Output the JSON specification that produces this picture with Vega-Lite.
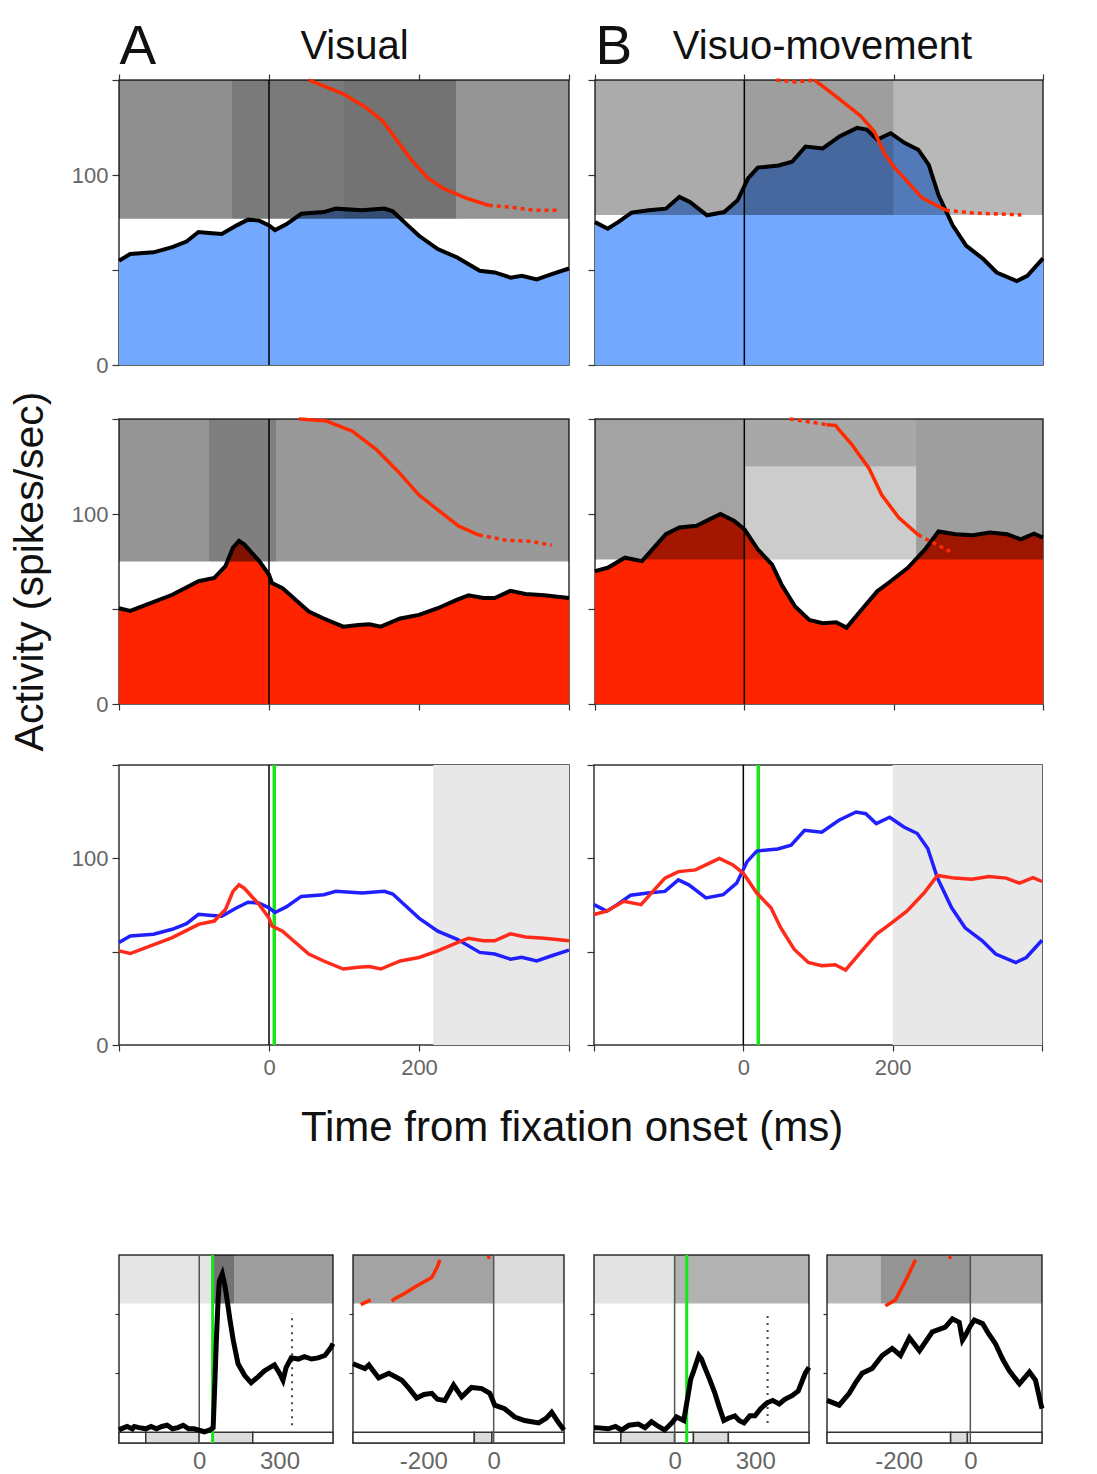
{
"$schema": "https://vega.github.io/schema/vega-lite/v6.json",
"padding": {"left": 10, "top": 18, "right": 0, "bottom": 0},
"background": "white",
"align": "none",
"spacing": 99,
"config": {
"view": {"stroke": "#333", "strokeWidth": 1.5},
"axis": {"grid": false, "domain": false, "ticks": true, "tickColor": "#333", "tickWidth": 1.2, "tickSize": 6, "labelFont": "Liberation Sans", "labelFontSize": 22, "labelColor": "#666", "titleFont": "Liberation Sans", "titleFontWeight": "normal", "titleColor": "#111"},
"title": {"font": "Liberation Sans", "fontWeight": "normal", "color": "#111"}
},
"datasets": {
"curves": [
{"p":"A","s":"blue","t":-200,"v":54.9},{"p":"A","s":"blue","t":-185,"v":58.4},{"p":"A","s":"blue","t":-154,"v":59.3},{"p":"A","s":"blue","t":-129,"v":62},{"p":"A","s":"blue","t":-110,"v":65},{"p":"A","s":"blue","t":-94,"v":70},{"p":"A","s":"blue","t":-80,"v":69.5},{"p":"A","s":"blue","t":-63,"v":69},{"p":"A","s":"blue","t":-43,"v":73.5},{"p":"A","s":"blue","t":-28,"v":76.5},{"p":"A","s":"blue","t":-13,"v":76},{"p":"A","s":"blue","t":0,"v":73.5},{"p":"A","s":"blue","t":8,"v":71},{"p":"A","s":"blue","t":23,"v":74},{"p":"A","s":"blue","t":43,"v":79.6},{"p":"A","s":"blue","t":73,"v":80.5},{"p":"A","s":"blue","t":89,"v":82.3},{"p":"A","s":"blue","t":124,"v":81.4},{"p":"A","s":"blue","t":154,"v":82.3},{"p":"A","s":"blue","t":165,"v":80.9},{"p":"A","s":"blue","t":185,"v":73.5},{"p":"A","s":"blue","t":200,"v":68},{"p":"A","s":"blue","t":225,"v":61},{"p":"A","s":"blue","t":251,"v":56.6},{"p":"A","s":"blue","t":281,"v":49.6},{"p":"A","s":"blue","t":301,"v":48.7},{"p":"A","s":"blue","t":322,"v":46},{"p":"A","s":"blue","t":337,"v":47},{"p":"A","s":"blue","t":357,"v":45},{"p":"A","s":"blue","t":377,"v":47.8},{"p":"A","s":"blue","t":400,"v":50.8},
{"p":"A","s":"red","t":-200,"v":50.4},{"p":"A","s":"red","t":-185,"v":49},{"p":"A","s":"red","t":-165,"v":52},{"p":"A","s":"red","t":-129,"v":57.5},{"p":"A","s":"red","t":-94,"v":64.6},{"p":"A","s":"red","t":-73,"v":66.4},{"p":"A","s":"red","t":-58,"v":72.6},{"p":"A","s":"red","t":-48,"v":82.3},{"p":"A","s":"red","t":-40,"v":85.8},{"p":"A","s":"red","t":-33,"v":84},{"p":"A","s":"red","t":-13,"v":75.2},{"p":"A","s":"red","t":0,"v":68},{"p":"A","s":"red","t":4,"v":63.7},{"p":"A","s":"red","t":18,"v":61},{"p":"A","s":"red","t":38,"v":54},{"p":"A","s":"red","t":53,"v":48.7},{"p":"A","s":"red","t":73,"v":45},{"p":"A","s":"red","t":99,"v":40.7},{"p":"A","s":"red","t":119,"v":41.6},{"p":"A","s":"red","t":134,"v":42},{"p":"A","s":"red","t":149,"v":40.7},{"p":"A","s":"red","t":175,"v":45},{"p":"A","s":"red","t":200,"v":46.9},{"p":"A","s":"red","t":225,"v":50.4},{"p":"A","s":"red","t":251,"v":54.9},{"p":"A","s":"red","t":266,"v":57.2},{"p":"A","s":"red","t":286,"v":55.8},{"p":"A","s":"red","t":301,"v":55.8},{"p":"A","s":"red","t":322,"v":59.6},{"p":"A","s":"red","t":342,"v":57.9},{"p":"A","s":"red","t":367,"v":57.2},{"p":"A","s":"red","t":400,"v":55.8},
{"p":"B","s":"blue","t":-200,"v":75.2},{"p":"B","s":"blue","t":-183,"v":71.7},{"p":"B","s":"blue","t":-169,"v":75.2},{"p":"B","s":"blue","t":-151,"v":80.2},{"p":"B","s":"blue","t":-128,"v":81.4},{"p":"B","s":"blue","t":-105,"v":82.3},{"p":"B","s":"blue","t":-87,"v":88.5},{"p":"B","s":"blue","t":-73,"v":85.8},{"p":"B","s":"blue","t":-50,"v":78.8},{"p":"B","s":"blue","t":-27,"v":80.5},{"p":"B","s":"blue","t":-9,"v":86.7},{"p":"B","s":"blue","t":5,"v":98.2},{"p":"B","s":"blue","t":18,"v":103.9},{"p":"B","s":"blue","t":46,"v":105},{"p":"B","s":"blue","t":64,"v":107},{"p":"B","s":"blue","t":82,"v":115},{"p":"B","s":"blue","t":105,"v":114},{"p":"B","s":"blue","t":128,"v":120.4},{"p":"B","s":"blue","t":151,"v":124.8},{"p":"B","s":"blue","t":164,"v":123.9},{"p":"B","s":"blue","t":178,"v":118.6},{"p":"B","s":"blue","t":196,"v":122},{"p":"B","s":"blue","t":215,"v":116.8},{"p":"B","s":"blue","t":233,"v":113.3},{"p":"B","s":"blue","t":247,"v":105.3},{"p":"B","s":"blue","t":260,"v":89.4},{"p":"B","s":"blue","t":279,"v":73.5},{"p":"B","s":"blue","t":297,"v":62.8},{"p":"B","s":"blue","t":320,"v":55.8},{"p":"B","s":"blue","t":338,"v":48.7},{"p":"B","s":"blue","t":365,"v":44.2},{"p":"B","s":"blue","t":379,"v":46.9},{"p":"B","s":"blue","t":400,"v":56.1},
{"p":"B","s":"red","t":-200,"v":69.9},{"p":"B","s":"red","t":-183,"v":71.7},{"p":"B","s":"red","t":-160,"v":77},{"p":"B","s":"red","t":-137,"v":75.2},{"p":"B","s":"red","t":-119,"v":83.2},{"p":"B","s":"red","t":-105,"v":89.4},{"p":"B","s":"red","t":-87,"v":92.9},{"p":"B","s":"red","t":-64,"v":93.8},{"p":"B","s":"red","t":-46,"v":97.3},{"p":"B","s":"red","t":-32,"v":100},{"p":"B","s":"red","t":-14,"v":96.5},{"p":"B","s":"red","t":0,"v":92},{"p":"B","s":"red","t":18,"v":81.4},{"p":"B","s":"red","t":37,"v":73.5},{"p":"B","s":"red","t":50,"v":62.8},{"p":"B","s":"red","t":68,"v":51.3},{"p":"B","s":"red","t":87,"v":44.2},{"p":"B","s":"red","t":105,"v":42.5},{"p":"B","s":"red","t":123,"v":43},{"p":"B","s":"red","t":137,"v":40.2},{"p":"B","s":"red","t":155,"v":48.7},{"p":"B","s":"red","t":178,"v":59.3},{"p":"B","s":"red","t":196,"v":64.6},{"p":"B","s":"red","t":219,"v":71.7},{"p":"B","s":"red","t":242,"v":81.4},{"p":"B","s":"red","t":260,"v":90.8},{"p":"B","s":"red","t":283,"v":89.4},{"p":"B","s":"red","t":306,"v":88.8},{"p":"B","s":"red","t":329,"v":90.3},{"p":"B","s":"red","t":352,"v":89.4},{"p":"B","s":"red","t":370,"v":86.7},{"p":"B","s":"red","t":388,"v":89.7},{"p":"B","s":"red","t":400,"v":87.6},
{"p":"C1","s":"k","t":-300,"v":2},{"p":"C1","s":"k","t":-292,"v":3},{"p":"C1","s":"k","t":-270,"v":5},{"p":"C1","s":"k","t":-250,"v":3},{"p":"C1","s":"k","t":-243,"v":5},{"p":"C1","s":"k","t":-225,"v":4},{"p":"C1","s":"k","t":-200,"v":3},{"p":"C1","s":"k","t":-180,"v":5},{"p":"C1","s":"k","t":-160,"v":3},{"p":"C1","s":"k","t":-140,"v":5},{"p":"C1","s":"k","t":-120,"v":6},{"p":"C1","s":"k","t":-100,"v":3},{"p":"C1","s":"k","t":-80,"v":4},{"p":"C1","s":"k","t":-60,"v":6},{"p":"C1","s":"k","t":-40,"v":3},{"p":"C1","s":"k","t":-20,"v":3},{"p":"C1","s":"k","t":-4,"v":2},{"p":"C1","s":"k","t":19,"v":0.5},{"p":"C1","s":"k","t":40,"v":2},{"p":"C1","s":"k","t":52,"v":4},{"p":"C1","s":"k","t":58,"v":40},{"p":"C1","s":"k","t":64,"v":78},{"p":"C1","s":"k","t":70,"v":110},{"p":"C1","s":"k","t":75,"v":128},{"p":"C1","s":"k","t":86,"v":134},{"p":"C1","s":"k","t":95,"v":125},{"p":"C1","s":"k","t":101,"v":117},{"p":"C1","s":"k","t":115,"v":95},{"p":"C1","s":"k","t":127,"v":78},{"p":"C1","s":"k","t":145,"v":58},{"p":"C1","s":"k","t":170,"v":48},{"p":"C1","s":"k","t":194,"v":42},{"p":"C1","s":"k","t":220,"v":47},{"p":"C1","s":"k","t":243,"v":52},{"p":"C1","s":"k","t":265,"v":55},{"p":"C1","s":"k","t":281,"v":57},{"p":"C1","s":"k","t":300,"v":50},{"p":"C1","s":"k","t":313,"v":44},{"p":"C1","s":"k","t":325,"v":55},{"p":"C1","s":"k","t":344,"v":63},{"p":"C1","s":"k","t":370,"v":62},{"p":"C1","s":"k","t":393,"v":64},{"p":"C1","s":"k","t":420,"v":62},{"p":"C1","s":"k","t":444,"v":63},{"p":"C1","s":"k","t":470,"v":65},{"p":"C1","s":"k","t":493,"v":72},{"p":"C1","s":"k","t":500,"v":75},
{"p":"C2","s":"k","t":-400,"v":58},{"p":"C2","s":"k","t":-366,"v":54},{"p":"C2","s":"k","t":-355,"v":57},{"p":"C2","s":"k","t":-327,"v":46},{"p":"C2","s":"k","t":-298,"v":50},{"p":"C2","s":"k","t":-261,"v":44},{"p":"C2","s":"k","t":-240,"v":37},{"p":"C2","s":"k","t":-219,"v":29},{"p":"C2","s":"k","t":-198,"v":32},{"p":"C2","s":"k","t":-176,"v":33},{"p":"C2","s":"k","t":-160,"v":28},{"p":"C2","s":"k","t":-139,"v":27},{"p":"C2","s":"k","t":-114,"v":40},{"p":"C2","s":"k","t":-91,"v":30},{"p":"C2","s":"k","t":-63,"v":38},{"p":"C2","s":"k","t":-34,"v":37},{"p":"C2","s":"k","t":-11,"v":33},{"p":"C2","s":"k","t":3,"v":23},{"p":"C2","s":"k","t":31,"v":20},{"p":"C2","s":"k","t":60,"v":13},{"p":"C2","s":"k","t":88,"v":10},{"p":"C2","s":"k","t":128,"v":8},{"p":"C2","s":"k","t":150,"v":12},{"p":"C2","s":"k","t":165,"v":17},{"p":"C2","s":"k","t":185,"v":8},{"p":"C2","s":"k","t":200,"v":2},
{"p":"C3","s":"k","t":-300,"v":4},{"p":"C3","s":"k","t":-292,"v":4},{"p":"C3","s":"k","t":-247,"v":3},{"p":"C3","s":"k","t":-220,"v":5},{"p":"C3","s":"k","t":-198,"v":2},{"p":"C3","s":"k","t":-170,"v":6},{"p":"C3","s":"k","t":-135,"v":7},{"p":"C3","s":"k","t":-110,"v":4},{"p":"C3","s":"k","t":-86,"v":9},{"p":"C3","s":"k","t":-60,"v":5},{"p":"C3","s":"k","t":-37,"v":2},{"p":"C3","s":"k","t":-10,"v":8},{"p":"C3","s":"k","t":7,"v":13},{"p":"C3","s":"k","t":34,"v":10},{"p":"C3","s":"k","t":49,"v":30},{"p":"C3","s":"k","t":60,"v":45},{"p":"C3","s":"k","t":71,"v":52},{"p":"C3","s":"k","t":90,"v":65},{"p":"C3","s":"k","t":100,"v":62},{"p":"C3","s":"k","t":112,"v":55},{"p":"C3","s":"k","t":130,"v":45},{"p":"C3","s":"k","t":150,"v":33},{"p":"C3","s":"k","t":165,"v":22},{"p":"C3","s":"k","t":183,"v":10},{"p":"C3","s":"k","t":200,"v":12},{"p":"C3","s":"k","t":224,"v":14},{"p":"C3","s":"k","t":240,"v":10},{"p":"C3","s":"k","t":258,"v":8},{"p":"C3","s":"k","t":280,"v":14},{"p":"C3","s":"k","t":299,"v":14},{"p":"C3","s":"k","t":320,"v":20},{"p":"C3","s":"k","t":344,"v":25},{"p":"C3","s":"k","t":365,"v":27},{"p":"C3","s":"k","t":389,"v":24},{"p":"C3","s":"k","t":410,"v":28},{"p":"C3","s":"k","t":437,"v":31},{"p":"C3","s":"k","t":460,"v":35},{"p":"C3","s":"k","t":486,"v":50},{"p":"C3","s":"k","t":500,"v":55},
{"p":"C4","s":"k","t":-400,"v":27},{"p":"C4","s":"k","t":-366,"v":23},{"p":"C4","s":"k","t":-338,"v":33},{"p":"C4","s":"k","t":-320,"v":42},{"p":"C4","s":"k","t":-302,"v":50},{"p":"C4","s":"k","t":-274,"v":54},{"p":"C4","s":"k","t":-246,"v":65},{"p":"C4","s":"k","t":-218,"v":71},{"p":"C4","s":"k","t":-195,"v":65},{"p":"C4","s":"k","t":-170,"v":80},{"p":"C4","s":"k","t":-142,"v":69},{"p":"C4","s":"k","t":-106,"v":85},{"p":"C4","s":"k","t":-70,"v":89},{"p":"C4","s":"k","t":-50,"v":96},{"p":"C4","s":"k","t":-31,"v":93},{"p":"C4","s":"k","t":-22,"v":78},{"p":"C4","s":"k","t":-14,"v":82},{"p":"C4","s":"k","t":0,"v":90},{"p":"C4","s":"k","t":11,"v":95},{"p":"C4","s":"k","t":34,"v":92},{"p":"C4","s":"k","t":50,"v":84},{"p":"C4","s":"k","t":70,"v":75},{"p":"C4","s":"k","t":90,"v":62},{"p":"C4","s":"k","t":109,"v":52},{"p":"C4","s":"k","t":137,"v":41},{"p":"C4","s":"k","t":165,"v":51},{"p":"C4","s":"k","t":182,"v":44},{"p":"C4","s":"k","t":196,"v":25},{"p":"C4","s":"k","t":200,"v":20}
],
"raster": [
{"p":"A1","t":-200,"t2":-50,"v":77,"v2":150,"d":0.44},{"p":"A1","t":-50,"t2":100,"v":77,"v2":150,"d":0.52},{"p":"A1","t":100,"t2":250,"v":77,"v2":150,"d":0.55},{"p":"A1","t":250,"t2":400,"v":77,"v2":150,"d":0.42},
{"p":"B1","t":-200,"t2":0,"v":79,"v2":150,"d":0.33},{"p":"B1","t":0,"t2":200,"v":79,"v2":150,"d":0.38},{"p":"B1","t":200,"t2":400,"v":79,"v2":150,"d":0.28},
{"p":"A2","t":-200,"t2":-80,"v":75,"v2":150,"d":0.42},{"p":"A2","t":-80,"t2":10,"v":75,"v2":150,"d":0.5},{"p":"A2","t":10,"t2":400,"v":75,"v2":150,"d":0.4},
{"p":"B2","t":-200,"t2":0,"v":76,"v2":150,"d":0.36},{"p":"B2","t":0,"t2":230,"v":76,"v2":125,"d":0.2},{"p":"B2","t":0,"t2":230,"v":125,"v2":150,"d":0.34},{"p":"B2","t":230,"t2":400,"v":76,"v2":150,"d":0.38},
{"p":"C1","t":-300,"t2":45,"v":109,"v2":150,"d":0.1},{"p":"C1","t":45,"t2":130,"v":109,"v2":150,"d":0.55},{"p":"C1","t":130,"t2":500,"v":109,"v2":150,"d":0.38},
{"p":"C2","t":-400,"t2":0,"v":109,"v2":150,"d":0.36},{"p":"C2","t":0,"t2":200,"v":109,"v2":150,"d":0.14},
{"p":"C3","t":-300,"t2":0,"v":109,"v2":150,"d":0.11},{"p":"C3","t":0,"t2":500,"v":109,"v2":150,"d":0.3},
{"p":"C4","t":-400,"t2":-250,"v":109,"v2":150,"d":0.28},{"p":"C4","t":-250,"t2":0,"v":109,"v2":150,"d":0.42},{"p":"C4","t":0,"t2":200,"v":109,"v2":150,"d":0.32}
],
"marks": [
{"p":"A1","g":"a","k":"s","t":53,"v":150},{"p":"A1","g":"a","k":"s","t":99,"v":142.7},{"p":"A1","g":"a","k":"s","t":129,"v":135.6},{"p":"A1","g":"a","k":"s","t":151,"v":128.7},{"p":"A1","g":"a","k":"s","t":171,"v":118},{"p":"A1","g":"a","k":"s","t":191,"v":107.4},{"p":"A1","g":"a","k":"s","t":212,"v":98.4},{"p":"A1","g":"a","k":"s","t":232,"v":93},{"p":"A1","g":"a","k":"s","t":263,"v":87.8},{"p":"A1","g":"a","k":"s","t":293,"v":84},
{"p":"A1","g":"b","k":"d","t":293,"v":84},{"p":"A1","g":"b","k":"d","t":324,"v":83},{"p":"A1","g":"b","k":"d","t":355,"v":81.4},{"p":"A1","g":"b","k":"d","t":388,"v":81.4},
{"p":"B1","g":"a","k":"d","t":43,"v":150},{"p":"B1","g":"a","k":"d","t":69,"v":149},{"p":"B1","g":"a","k":"d","t":94,"v":150},
{"p":"B1","g":"b","k":"s","t":94,"v":150},{"p":"B1","g":"b","k":"s","t":124,"v":141},{"p":"B1","g":"b","k":"s","t":156,"v":131},{"p":"B1","g":"b","k":"s","t":174,"v":123},{"p":"B1","g":"b","k":"s","t":188,"v":111},{"p":"B1","g":"b","k":"s","t":201,"v":104},{"p":"B1","g":"b","k":"s","t":215,"v":98},{"p":"B1","g":"b","k":"s","t":238,"v":88},{"p":"B1","g":"b","k":"s","t":270,"v":81.4},
{"p":"B1","g":"c","k":"d","t":270,"v":81.4},{"p":"B1","g":"c","k":"d","t":307,"v":80},{"p":"B1","g":"c","k":"d","t":371,"v":79},
{"p":"A2","g":"a","k":"s","t":40,"v":150},{"p":"A2","g":"a","k":"s","t":76,"v":149},{"p":"A2","g":"a","k":"s","t":111,"v":143.6},{"p":"A2","g":"a","k":"s","t":143,"v":134},{"p":"A2","g":"a","k":"s","t":173,"v":122},{"p":"A2","g":"a","k":"s","t":200,"v":110},{"p":"A2","g":"a","k":"s","t":227,"v":101.6},{"p":"A2","g":"a","k":"s","t":253,"v":93.6},{"p":"A2","g":"a","k":"s","t":280,"v":88.9},
{"p":"A2","g":"b","k":"d","t":280,"v":88.9},{"p":"A2","g":"b","k":"d","t":316,"v":86.2},{"p":"A2","g":"b","k":"d","t":347,"v":85.7},{"p":"A2","g":"b","k":"d","t":377,"v":83.6},
{"p":"B2","g":"a","k":"d","t":61,"v":150},{"p":"B2","g":"a","k":"d","t":95,"v":148},{"p":"B2","g":"a","k":"d","t":110,"v":147},
{"p":"B2","g":"b","k":"s","t":110,"v":147},{"p":"B2","g":"b","k":"s","t":122,"v":146.6},{"p":"B2","g":"b","k":"s","t":144,"v":136.5},{"p":"B2","g":"b","k":"s","t":167,"v":124},{"p":"B2","g":"b","k":"s","t":184,"v":110},{"p":"B2","g":"b","k":"s","t":207,"v":98},{"p":"B2","g":"b","k":"s","t":233,"v":89},
{"p":"B2","g":"c","k":"d","t":233,"v":89},{"p":"B2","g":"c","k":"d","t":277,"v":80},
{"p":"C2","g":"a","k":"s","t":-378,"v":108},{"p":"C2","g":"a","k":"s","t":-350,"v":112},
{"p":"C2","g":"b","k":"s","t":-290,"v":111},{"p":"C2","g":"b","k":"s","t":-281,"v":113},{"p":"C2","g":"b","k":"s","t":-250,"v":118},{"p":"C2","g":"b","k":"s","t":-224,"v":123},{"p":"C2","g":"b","k":"s","t":-200,"v":127},{"p":"C2","g":"b","k":"s","t":-176,"v":131},{"p":"C2","g":"b","k":"s","t":-160,"v":140},{"p":"C2","g":"b","k":"s","t":-153,"v":146},
{"p":"C2","g":"c","k":"s","t":-16,"v":147},{"p":"C2","g":"c","k":"s","t":-12,"v":149},
{"p":"C4","g":"a","k":"s","t":-237,"v":107},{"p":"C4","g":"a","k":"s","t":-209,"v":112},{"p":"C4","g":"a","k":"s","t":-190,"v":123},{"p":"C4","g":"a","k":"s","t":-178,"v":130},{"p":"C4","g":"a","k":"s","t":-167,"v":137},{"p":"C4","g":"a","k":"s","t":-153,"v":146},
{"p":"C4","g":"b","k":"s","t":-59,"v":147},{"p":"C4","g":"b","k":"s","t":-55,"v":149}
],
"vl": [
{"p":"A1","c":"zero","t":0},{"p":"B1","c":"zero","t":0},{"p":"A2","c":"zero","t":0},{"p":"B2","c":"zero","t":0},
{"p":"A3","c":"zero","t":0},{"p":"A3","c":"green","t":7},{"p":"B3","c":"zero","t":0},{"p":"B3","c":"green","t":20},
{"p":"C1","c":"zero","t":0},{"p":"C1","c":"green","t":50},{"p":"C2","c":"zero","t":0},{"p":"C3","c":"zero","t":0},{"p":"C3","c":"green","t":45},{"p":"C4","c":"zero","t":0}
],
"shade": [{"p":"A3","t":219,"t2":400},{"p":"B3","t":200,"t2":400}],
"dots": [{"p":"C1","t":347,"v":6,"v2":101},{"p":"C3","t":346,"v":8,"v2":101}],
"box": [
{"p":"C1","t":-300,"t2":-200,"f":"#ffffff"},{"p":"C1","t":-200,"t2":0,"f":"#dcdcdc"},{"p":"C1","t":0,"t2":50,"f":"#ffffff"},{"p":"C1","t":50,"t2":200,"f":"#dcdcdc"},{"p":"C1","t":200,"t2":500,"f":"#ffffff"},
{"p":"C2","t":-400,"t2":-55,"f":"#ffffff"},{"p":"C2","t":-55,"t2":-5,"f":"#dcdcdc"},{"p":"C2","t":-5,"t2":200,"f":"#ffffff"},
{"p":"C3","t":-300,"t2":-200,"f":"#ffffff"},{"p":"C3","t":-200,"t2":0,"f":"#dcdcdc"},{"p":"C3","t":0,"t2":70,"f":"#ffffff"},{"p":"C3","t":70,"t2":200,"f":"#dcdcdc"},{"p":"C3","t":200,"t2":500,"f":"#ffffff"},
{"p":"C4","t":-400,"t2":-55,"f":"#ffffff"},{"p":"C4","t":-55,"t2":-8,"f":"#dcdcdc"},{"p":"C4","t":-8,"t2":200,"f":"#ffffff"}
]
},
"vconcat": [
{
"align": "none",
"spacing": 46,
"title": {"text": "Activity (spikes/sec)", "orient": "left", "anchor": "middle", "fontSize": 41, "offset": 18, "dx": 12},
"vconcat": [
{
"align": "none",
"spacing": 34,
"vconcat": [
{
"align": "none",
"spacing": 8,
"hconcat": [
{
"width": 450, "height": 285,
"encoding": {"x": {"field": "t", "type": "quantitative", "scale": {"domain": [-200, 400], "nice": false, "zero": false}, "axis": {"orient": "top", "values": [-200, 0, 200, 400], "labels": false, "title": "Visual", "titleFontSize": 40, "titleX": 235, "titleY": -22, "titleAlign": "center", "titleBaseline": "alphabetic"}}},
"layer": [
{"data": {"name": "curves"}, "transform": [{"filter": "datum.p=='A'&&datum.s=='blue'"}], "mark": {"type": "area", "color": "#72a9ff"}, "encoding": {"y": {"field": "v", "type": "quantitative", "scale": {"domain": [0, 150], "nice": false}, "axis": {"values": [0, 50, 100, 150], "labelExpr": "datum.value==0||datum.value==100?datum.label:''", "tickSize": 7, "labelPadding": 4, "minExtent": 48, "maxExtent": 48, "title": "A", "titleAngle": 0, "titleX": 0, "titleY": -17, "titleAlign": "left", "titleBaseline": "alphabetic", "titleFontSize": 55}}}},
{"data": {"name": "raster"}, "transform": [{"filter": "datum.p=='A1'"}], "mark": {"type": "rect", "color": "#000"}, "encoding": {"x2": {"field": "t2"}, "y": {"field": "v", "type": "quantitative"}, "y2": {"field": "v2"}, "opacity": {"field": "d", "type": "quantitative", "scale": null, "legend": null}}},
{"data": {"name": "vl"}, "transform": [{"filter": "datum.p=='A1'"}], "mark": {"type": "rule", "color": "#000", "strokeWidth": 1.5}, "encoding": {"strokeWidth": {"value": 1.5}}},
{"data": {"name": "curves"}, "transform": [{"filter": "datum.p=='A'&&datum.s=='blue'"}], "mark": {"type": "line", "color": "#000", "strokeWidth": 4}, "encoding": {"y": {"field": "v", "type": "quantitative"}}},
{"data": {"name": "marks"}, "transform": [{"filter": "datum.p=='A1'"}], "mark": {"type": "line", "color": "#ff2a00", "strokeWidth": 3.5}, "encoding": {"y": {"field": "v", "type": "quantitative"}, "detail": {"field": "g"}, "strokeDash": {"field": "k", "type": "nominal", "scale": {"domain": ["s", "d"], "range": [[1, 0], [4, 4]]}, "legend": null}}}
]
},
{
"width": 448, "height": 285,
"encoding": {"x": {"field": "t", "type": "quantitative", "scale": {"domain": [-200, 400], "nice": false, "zero": false}, "axis": {"orient": "top", "values": [-200, 0, 200, 400], "labels": false, "title": "Visuo-movement", "titleFontSize": 40, "titleX": 227, "titleY": -22, "titleAlign": "center", "titleBaseline": "alphabetic"}}},
"layer": [
{"data": {"name": "curves"}, "transform": [{"filter": "datum.p=='B'&&datum.s=='blue'"}], "mark": {"type": "area", "color": "#72a9ff"}, "encoding": {"y": {"field": "v", "type": "quantitative", "scale": {"domain": [0, 150], "nice": false}, "axis": {"values": [0, 50, 100, 150], "labels": false, "tickSize": 7, "minExtent": 7, "maxExtent": 7, "title": "B", "titleAngle": 0, "titleX": 0, "titleY": -17, "titleAlign": "left", "titleBaseline": "alphabetic", "titleFontSize": 55}}}},
{"data": {"name": "raster"}, "transform": [{"filter": "datum.p=='B1'"}], "mark": {"type": "rect", "color": "#000"}, "encoding": {"x2": {"field": "t2"}, "y": {"field": "v", "type": "quantitative"}, "y2": {"field": "v2"}, "opacity": {"field": "d", "type": "quantitative", "scale": null, "legend": null}}},
{"data": {"name": "vl"}, "transform": [{"filter": "datum.p=='B1'"}], "mark": {"type": "rule", "color": "#000", "strokeWidth": 1.5}, "encoding": {"strokeWidth": {"value": 1.5}}},
{"data": {"name": "curves"}, "transform": [{"filter": "datum.p=='B'&&datum.s=='blue'"}], "mark": {"type": "line", "color": "#000", "strokeWidth": 4}, "encoding": {"y": {"field": "v", "type": "quantitative"}}},
{"data": {"name": "marks"}, "transform": [{"filter": "datum.p=='B1'"}], "mark": {"type": "line", "color": "#ff2a00", "strokeWidth": 3.5}, "encoding": {"y": {"field": "v", "type": "quantitative"}, "detail": {"field": "g"}, "strokeDash": {"field": "k", "type": "nominal", "scale": {"domain": ["s", "d"], "range": [[1, 0], [4, 4]]}, "legend": null}}}
]
}
]
},
{
"align": "none",
"spacing": 8,
"hconcat": [
{
"width": 450, "height": 285,
"encoding": {"x": {"field": "t", "type": "quantitative", "scale": {"domain": [-200, 400], "nice": false, "zero": false}, "axis": {"values": [-200, 0, 200, 400], "labels": false, "title": null}}},
"layer": [
{"data": {"name": "curves"}, "transform": [{"filter": "datum.p=='A'&&datum.s=='red'"}], "mark": {"type": "area", "color": "#ff2400"}, "encoding": {"y": {"field": "v", "type": "quantitative", "scale": {"domain": [0, 150], "nice": false}, "axis": {"values": [0, 50, 100, 150], "labelExpr": "datum.value==0||datum.value==100?datum.label:''", "tickSize": 7, "labelPadding": 4, "minExtent": 48, "maxExtent": 48, "title": null}}}},
{"data": {"name": "raster"}, "transform": [{"filter": "datum.p=='A2'"}], "mark": {"type": "rect", "color": "#000"}, "encoding": {"x2": {"field": "t2"}, "y": {"field": "v", "type": "quantitative"}, "y2": {"field": "v2"}, "opacity": {"field": "d", "type": "quantitative", "scale": null, "legend": null}}},
{"data": {"name": "vl"}, "transform": [{"filter": "datum.p=='A2'"}], "mark": {"type": "rule", "color": "#000", "strokeWidth": 1.5}, "encoding": {"strokeWidth": {"value": 1.5}}},
{"data": {"name": "curves"}, "transform": [{"filter": "datum.p=='A'&&datum.s=='red'"}], "mark": {"type": "line", "color": "#000", "strokeWidth": 4}, "encoding": {"y": {"field": "v", "type": "quantitative"}}},
{"data": {"name": "marks"}, "transform": [{"filter": "datum.p=='A2'"}], "mark": {"type": "line", "color": "#ff2a00", "strokeWidth": 3.5}, "encoding": {"y": {"field": "v", "type": "quantitative"}, "detail": {"field": "g"}, "strokeDash": {"field": "k", "type": "nominal", "scale": {"domain": ["s", "d"], "range": [[1, 0], [4, 4]]}, "legend": null}}}
]
},
{
"width": 448, "height": 285,
"encoding": {"x": {"field": "t", "type": "quantitative", "scale": {"domain": [-200, 400], "nice": false, "zero": false}, "axis": {"values": [-200, 0, 200, 400], "labels": false, "title": null}}},
"layer": [
{"data": {"name": "curves"}, "transform": [{"filter": "datum.p=='B'&&datum.s=='red'"}], "mark": {"type": "area", "color": "#ff2400"}, "encoding": {"y": {"field": "v", "type": "quantitative", "scale": {"domain": [0, 150], "nice": false}, "axis": {"values": [0, 50, 100, 150], "labels": false, "tickSize": 7, "minExtent": 7, "maxExtent": 7, "title": null}}}},
{"data": {"name": "raster"}, "transform": [{"filter": "datum.p=='B2'"}], "mark": {"type": "rect", "color": "#000"}, "encoding": {"x2": {"field": "t2"}, "y": {"field": "v", "type": "quantitative"}, "y2": {"field": "v2"}, "opacity": {"field": "d", "type": "quantitative", "scale": null, "legend": null}}},
{"data": {"name": "vl"}, "transform": [{"filter": "datum.p=='B2'"}], "mark": {"type": "rule", "color": "#000", "strokeWidth": 1.5}, "encoding": {"strokeWidth": {"value": 1.5}}},
{"data": {"name": "curves"}, "transform": [{"filter": "datum.p=='B'&&datum.s=='red'"}], "mark": {"type": "line", "color": "#000", "strokeWidth": 4}, "encoding": {"y": {"field": "v", "type": "quantitative"}}},
{"data": {"name": "marks"}, "transform": [{"filter": "datum.p=='B2'"}], "mark": {"type": "line", "color": "#ff2a00", "strokeWidth": 3.5}, "encoding": {"y": {"field": "v", "type": "quantitative"}, "detail": {"field": "g"}, "strokeDash": {"field": "k", "type": "nominal", "scale": {"domain": ["s", "d"], "range": [[1, 0], [4, 4]]}, "legend": null}}}
]
}
]
}
]
},
{
"align": "none",
"spacing": 8,
"title": {"text": "Time from fixation onset (ms)", "orient": "bottom", "anchor": "middle", "fontSize": 42, "offset": 29, "dx": 12},
"hconcat": [
{
"width": 450, "height": 280,
"encoding": {"x": {"field": "t", "type": "quantitative", "scale": {"domain": [-200, 400], "nice": false, "zero": false}, "axis": {"values": [-200, 0, 200, 400], "labelExpr": "datum.value==0||datum.value==200?datum.label:''", "labelPadding": 6, "title": null}}},
"layer": [
{"data": {"name": "shade"}, "transform": [{"filter": "datum.p=='A3'"}], "mark": {"type": "rect", "color": "#e8e8e8"}, "encoding": {"x2": {"field": "t2"}}},
{"data": {"name": "vl"}, "transform": [{"filter": "datum.p=='A3'&&datum.c=='zero'"}], "mark": {"type": "rule", "color": "#000", "strokeWidth": 1.5}, "encoding": {"strokeWidth": {"value": 1.5}}},
{"data": {"name": "vl"}, "transform": [{"filter": "datum.p=='A3'&&datum.c=='green'"}], "mark": {"type": "rule", "color": "#19e619", "strokeWidth": 3.5}, "encoding": {"strokeWidth": {"value": 3.5}}},
{"data": {"name": "curves"}, "transform": [{"filter": "datum.p=='A'&&datum.s=='blue'"}], "mark": {"type": "line", "color": "#1f1fff", "strokeWidth": 3.5}, "encoding": {"y": {"field": "v", "type": "quantitative", "scale": {"domain": [0, 150], "nice": false}, "axis": {"values": [0, 50, 100, 150], "labelExpr": "datum.value==0||datum.value==100?datum.label:''", "tickSize": 7, "labelPadding": 4, "minExtent": 48, "maxExtent": 48, "title": null}}}},
{"data": {"name": "curves"}, "transform": [{"filter": "datum.p=='A'&&datum.s=='red'"}], "mark": {"type": "line", "color": "#ff2a1a", "strokeWidth": 3.5}, "encoding": {"y": {"field": "v", "type": "quantitative"}}}
]
},
{
"width": 448, "height": 280,
"encoding": {"x": {"field": "t", "type": "quantitative", "scale": {"domain": [-200, 400], "nice": false, "zero": false}, "axis": {"values": [-200, 0, 200, 400], "labelExpr": "datum.value==0||datum.value==200?datum.label:''", "labelPadding": 6, "title": null}}},
"layer": [
{"data": {"name": "shade"}, "transform": [{"filter": "datum.p=='B3'"}], "mark": {"type": "rect", "color": "#e8e8e8"}, "encoding": {"x2": {"field": "t2"}}},
{"data": {"name": "vl"}, "transform": [{"filter": "datum.p=='B3'&&datum.c=='zero'"}], "mark": {"type": "rule", "color": "#000", "strokeWidth": 1.5}, "encoding": {"strokeWidth": {"value": 1.5}}},
{"data": {"name": "vl"}, "transform": [{"filter": "datum.p=='B3'&&datum.c=='green'"}], "mark": {"type": "rule", "color": "#19e619", "strokeWidth": 3.5}, "encoding": {"strokeWidth": {"value": 3.5}}},
{"data": {"name": "curves"}, "transform": [{"filter": "datum.p=='B'&&datum.s=='blue'"}], "mark": {"type": "line", "color": "#1f1fff", "strokeWidth": 3.5}, "encoding": {"y": {"field": "v", "type": "quantitative", "scale": {"domain": [0, 150], "nice": false}, "axis": {"values": [0, 50, 100, 150], "labels": false, "tickSize": 7, "minExtent": 7, "maxExtent": 7, "title": null}}}},
{"data": {"name": "curves"}, "transform": [{"filter": "datum.p=='B'&&datum.s=='red'"}], "mark": {"type": "line", "color": "#ff2a1a", "strokeWidth": 3.5}, "encoding": {"y": {"field": "v", "type": "quantitative"}}}
]
}
]
}
]
},
{
"align": "none",
"spacing": 8,
"title": {"text": "\u00a0", "orient": "left", "anchor": "middle", "fontSize": 41, "offset": 18},
"hconcat": [
{
"align": "none",
"spacing": -2,
"hconcat": [
{
"width": 214, "height": 188,
"encoding": {"x": {"field": "t", "type": "quantitative", "scale": {"domain": [-300, 500], "nice": false, "zero": false}, "axis": {"values": [0, 300], "ticks": false, "labelPadding": 6, "labelFontSize": 24, "title": null}}},
"layer": [
{"data": {"name": "box"}, "transform": [{"filter": "datum.p=='C1'"}], "mark": {"type": "rect", "stroke": "#333", "strokeWidth": 1.5}, "encoding": {"x2": {"field": "t2"}, "y": {"datum": -9, "type": "quantitative", "scale": {"domain": [-9, 150], "nice": false, "zero": false}, "axis": {"values": [50, 100], "labels": false, "tickSize": 4, "minExtent": 48, "maxExtent": 48, "title": null}}, "y2": {"datum": 0}, "fill": {"field": "f", "type": "nominal", "scale": null, "legend": null}}},
{"data": {"name": "raster"}, "transform": [{"filter": "datum.p=='C1'"}], "mark": {"type": "rect", "color": "#000"}, "encoding": {"x2": {"field": "t2"}, "y": {"field": "v", "type": "quantitative"}, "y2": {"field": "v2"}, "opacity": {"field": "d", "type": "quantitative", "scale": null, "legend": null}}},
{"data": {"name": "vl"}, "transform": [{"filter": "datum.p=='C1'&&datum.c=='zero'"}], "mark": {"type": "rule", "color": "#555", "strokeWidth": 1.5}, "encoding": {"strokeWidth": {"value": 1.5}}},
{"data": {"name": "vl"}, "transform": [{"filter": "datum.p=='C1'&&datum.c=='green'"}], "mark": {"type": "rule", "color": "#19e619", "strokeWidth": 3}, "encoding": {"strokeWidth": {"value": 3}}},
{"data": {"name": "dots"}, "transform": [{"filter": "datum.p=='C1'"}], "mark": {"type": "rule", "color": "#444", "strokeWidth": 2, "strokeDash": [2, 5]}, "encoding": {"y": {"field": "v", "type": "quantitative"}, "y2": {"field": "v2"}}},
{"data": {"name": "curves"}, "transform": [{"filter": "datum.p=='C1'"}], "mark": {"type": "line", "color": "#000", "strokeWidth": 5}, "encoding": {"y": {"field": "v", "type": "quantitative"}}}
]
},
{
"width": 211, "height": 188,
"encoding": {"x": {"field": "t", "type": "quantitative", "scale": {"domain": [-400, 200], "nice": false, "zero": false}, "axis": {"values": [-200, 0], "labelExpr": "datum.value<0?'-'+(-datum.value):''+datum.value", "ticks": false, "labelPadding": 6, "labelFontSize": 24, "title": null}}},
"layer": [
{"data": {"name": "box"}, "transform": [{"filter": "datum.p=='C2'"}], "mark": {"type": "rect", "stroke": "#333", "strokeWidth": 1.5}, "encoding": {"x2": {"field": "t2"}, "y": {"datum": -9, "type": "quantitative", "scale": {"domain": [-9, 150], "nice": false, "zero": false}, "axis": {"values": [50, 100], "labels": false, "tickSize": 4, "minExtent": 4, "maxExtent": 4, "title": null}}, "y2": {"datum": 0}, "fill": {"field": "f", "type": "nominal", "scale": null, "legend": null}}},
{"data": {"name": "raster"}, "transform": [{"filter": "datum.p=='C2'"}], "mark": {"type": "rect", "color": "#000"}, "encoding": {"x2": {"field": "t2"}, "y": {"field": "v", "type": "quantitative"}, "y2": {"field": "v2"}, "opacity": {"field": "d", "type": "quantitative", "scale": null, "legend": null}}},
{"data": {"name": "vl"}, "transform": [{"filter": "datum.p=='C2'"}], "mark": {"type": "rule", "color": "#555", "strokeWidth": 1.5}, "encoding": {"strokeWidth": {"value": 1.5}}},
{"data": {"name": "curves"}, "transform": [{"filter": "datum.p=='C2'"}], "mark": {"type": "line", "color": "#000", "strokeWidth": 5}, "encoding": {"y": {"field": "v", "type": "quantitative"}}},
{"data": {"name": "marks"}, "transform": [{"filter": "datum.p=='C2'"}], "mark": {"type": "line", "color": "#ff2a00", "strokeWidth": 3.5}, "encoding": {"y": {"field": "v", "type": "quantitative"}, "detail": {"field": "g"}}}
]
}
]
},
{
"align": "none",
"spacing": -4,
"hconcat": [
{
"width": 215, "height": 188,
"encoding": {"x": {"field": "t", "type": "quantitative", "scale": {"domain": [-300, 500], "nice": false, "zero": false}, "axis": {"values": [0, 300], "ticks": false, "labelPadding": 6, "labelFontSize": 24, "title": null}}},
"layer": [
{"data": {"name": "box"}, "transform": [{"filter": "datum.p=='C3'"}], "mark": {"type": "rect", "stroke": "#333", "strokeWidth": 1.5}, "encoding": {"x2": {"field": "t2"}, "y": {"datum": -9, "type": "quantitative", "scale": {"domain": [-9, 150], "nice": false, "zero": false}, "axis": {"values": [50, 100], "labels": false, "tickSize": 4, "minExtent": 4, "maxExtent": 4, "title": null}}, "y2": {"datum": 0}, "fill": {"field": "f", "type": "nominal", "scale": null, "legend": null}}},
{"data": {"name": "raster"}, "transform": [{"filter": "datum.p=='C3'"}], "mark": {"type": "rect", "color": "#000"}, "encoding": {"x2": {"field": "t2"}, "y": {"field": "v", "type": "quantitative"}, "y2": {"field": "v2"}, "opacity": {"field": "d", "type": "quantitative", "scale": null, "legend": null}}},
{"data": {"name": "vl"}, "transform": [{"filter": "datum.p=='C3'&&datum.c=='zero'"}], "mark": {"type": "rule", "color": "#555", "strokeWidth": 1.5}, "encoding": {"strokeWidth": {"value": 1.5}}},
{"data": {"name": "vl"}, "transform": [{"filter": "datum.p=='C3'&&datum.c=='green'"}], "mark": {"type": "rule", "color": "#19e619", "strokeWidth": 3}, "encoding": {"strokeWidth": {"value": 3}}},
{"data": {"name": "dots"}, "transform": [{"filter": "datum.p=='C3'"}], "mark": {"type": "rule", "color": "#444", "strokeWidth": 2, "strokeDash": [2, 5]}, "encoding": {"y": {"field": "v", "type": "quantitative"}, "y2": {"field": "v2"}}},
{"data": {"name": "curves"}, "transform": [{"filter": "datum.p=='C3'"}], "mark": {"type": "line", "color": "#000", "strokeWidth": 5}, "encoding": {"y": {"field": "v", "type": "quantitative"}}}
]
},
{
"width": 215, "height": 188,
"encoding": {"x": {"field": "t", "type": "quantitative", "scale": {"domain": [-400, 200], "nice": false, "zero": false}, "axis": {"values": [-200, 0], "labelExpr": "datum.value<0?'-'+(-datum.value):''+datum.value", "ticks": false, "labelPadding": 6, "labelFontSize": 24, "title": null}}},
"layer": [
{"data": {"name": "box"}, "transform": [{"filter": "datum.p=='C4'"}], "mark": {"type": "rect", "stroke": "#333", "strokeWidth": 1.5}, "encoding": {"x2": {"field": "t2"}, "y": {"datum": -9, "type": "quantitative", "scale": {"domain": [-9, 150], "nice": false, "zero": false}, "axis": {"values": [50, 100], "labels": false, "tickSize": 4, "minExtent": 4, "maxExtent": 4, "title": null}}, "y2": {"datum": 0}, "fill": {"field": "f", "type": "nominal", "scale": null, "legend": null}}},
{"data": {"name": "raster"}, "transform": [{"filter": "datum.p=='C4'"}], "mark": {"type": "rect", "color": "#000"}, "encoding": {"x2": {"field": "t2"}, "y": {"field": "v", "type": "quantitative"}, "y2": {"field": "v2"}, "opacity": {"field": "d", "type": "quantitative", "scale": null, "legend": null}}},
{"data": {"name": "vl"}, "transform": [{"filter": "datum.p=='C4'"}], "mark": {"type": "rule", "color": "#555", "strokeWidth": 1.5}, "encoding": {"strokeWidth": {"value": 1.5}}},
{"data": {"name": "curves"}, "transform": [{"filter": "datum.p=='C4'"}], "mark": {"type": "line", "color": "#000", "strokeWidth": 5}, "encoding": {"y": {"field": "v", "type": "quantitative"}}},
{"data": {"name": "marks"}, "transform": [{"filter": "datum.p=='C4'"}], "mark": {"type": "line", "color": "#ff2a00", "strokeWidth": 3.5}, "encoding": {"y": {"field": "v", "type": "quantitative"}, "detail": {"field": "g"}}}
]
}
]
}
]
}
]
}
